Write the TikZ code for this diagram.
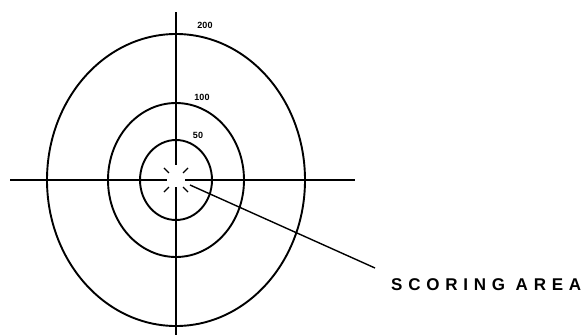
\documentclass[tikz,border=0pt]{standalone}
\usepackage{fontspec}
\usetikzlibrary{calc}
\setmainfont{Liberation Sans}
\newfontfamily\labfont[LetterSpace=34]{Liberation Sans}
\begin{document}
\begin{tikzpicture}[x=1pt,y=-1pt,
  ring/.style={line width=1.9pt},
  axis/.style={line width=1.4pt},
  tick/.style={line width=1.2pt},
  num/.style={font=\fontsize{9}{9}\selectfont\bfseries, inner sep=0pt}]
\useasboundingbox (0,0) rectangle (583,335);
\coordinate (c) at (176,180);
\draw[ring] (c) ellipse [x radius=129, y radius=146];
\draw[ring] (c) ellipse [x radius=68, y radius=77];
\draw[ring] (c) ellipse [x radius=36, y radius=40];
\coordinate (vt) at (176,12);
\coordinate (vb) at (176,335);
\coordinate (hl) at (10,180);
\coordinate (hr) at (355,180);
\draw[axis] (vt) -- (176,165);
\draw[axis] (176,187) -- (vb);
\draw[axis] (hl) -- (167,180);
\draw[axis] (185,180) -- (hr);
\foreach \a in {45,135,225,315}
  \draw[tick] ($(c)+(\a:10)$) -- ($(c)+(\a:17)$);
\node[num] (l200) at (205,25) {200};
\node[num] (l100) at (202,97) {100};
\node[num] (l50) at (198,135) {50};
\node[font=\labfont\fontsize{17}{17}\selectfont\bfseries, anchor=west, inner sep=0pt] (sa) at (391,285) {SCORING AREA};
\coordinate (ls) at (190,185);
\coordinate (le) at (375,268);
\draw[axis] (ls) -- (le);
\end{tikzpicture}
\end{document}
